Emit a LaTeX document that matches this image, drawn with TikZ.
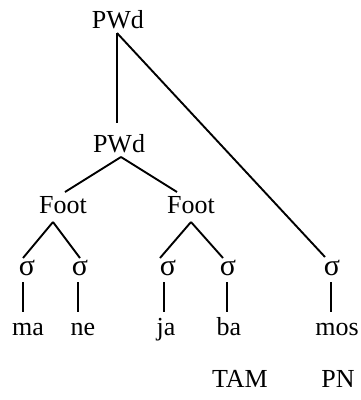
\documentclass[tikz,border=0pt]{standalone}
\usepackage{fontspec}
\setmainfont{Liberation Serif}
\usetikzlibrary{calc}
\begin{document}
\begin{tikzpicture}[x=1pt,y=-1pt,
  lbl/.style={anchor=base,inner sep=0pt,font=\fontsize{26}{30}\selectfont},
  sig/.style={lbl,font=\fontsize{30}{34}\selectfont},
  br/.style={line width=1.9pt}]
\useasboundingbox (0,0) rectangle (360,400);
\node[lbl] (pwdA) at (118,28) {PWd};
\node[lbl] (pwdB) at (119,152) {PWd};
\node[lbl] (footA) at (63,213) {Foot};
\node[lbl] (footB) at (191,213) {Foot};
\node[sig] (s1) at (27,275) {σ};
\node[sig] (s2) at (80,275) {σ};
\node[sig] (s3) at (168,275) {σ};
\node[sig] (s4) at (228,275) {σ};
\node[sig] (s5) at (332,275) {σ};
\node[lbl] (ma) at (28,335) {ma};
\node[lbl] (ne) at (83,335) {ne};
\node[lbl] (ja) at (166,335) {ja};
\node[lbl] (ba) at (229,335) {ba};
\node[lbl] (mos) at (337,335) {mos};
\node[lbl] (tam) at (240,387) {TAM};
\node[lbl] (pn) at (338,387) {PN};
% branches
\draw[br] ($(pwdA.base)+(-1,5)$) -- ($(pwdB.base)+(-2,-29)$);
\draw[br] ($(pwdA.base)+(-1,5)$) -- ($(s5.base)+(-7,-18)$);
\draw[br] ($(pwdB.base)+(2,5)$) -- ($(footA.base)+(2,-21)$);
\draw[br] ($(pwdB.base)+(2,5)$) -- ($(footB.base)+(-14,-21)$);
\draw[br] ($(footA.base)+(-10,9)$) -- ($(s1.base)+(-4,-17)$);
\draw[br] ($(footA.base)+(-10,9)$) -- ($(s2.base)+(0,-17)$);
\draw[br] ($(footB.base)+(0,9)$) -- ($(s3.base)+(-8,-17)$);
\draw[br] ($(footB.base)+(0,9)$) -- ($(s4.base)+(-5,-17)$);
\draw[br] ($(s1.base)+(-4,7)$) -- ($(ma.base)+(-5,-23)$);
\draw[br] ($(s2.base)+(-2,7)$) -- ($(ne.base)+(-5,-23)$);
\draw[br] ($(s3.base)+(-4,7)$) -- ($(ja.base)+(-2,-23)$);
\draw[br] ($(s4.base)+(-1,7)$) -- ($(ba.base)+(-2,-23)$);
\draw[br] ($(s5.base)+(-1,7)$) -- ($(mos.base)+(-6,-23)$);
\end{tikzpicture}
\end{document}
